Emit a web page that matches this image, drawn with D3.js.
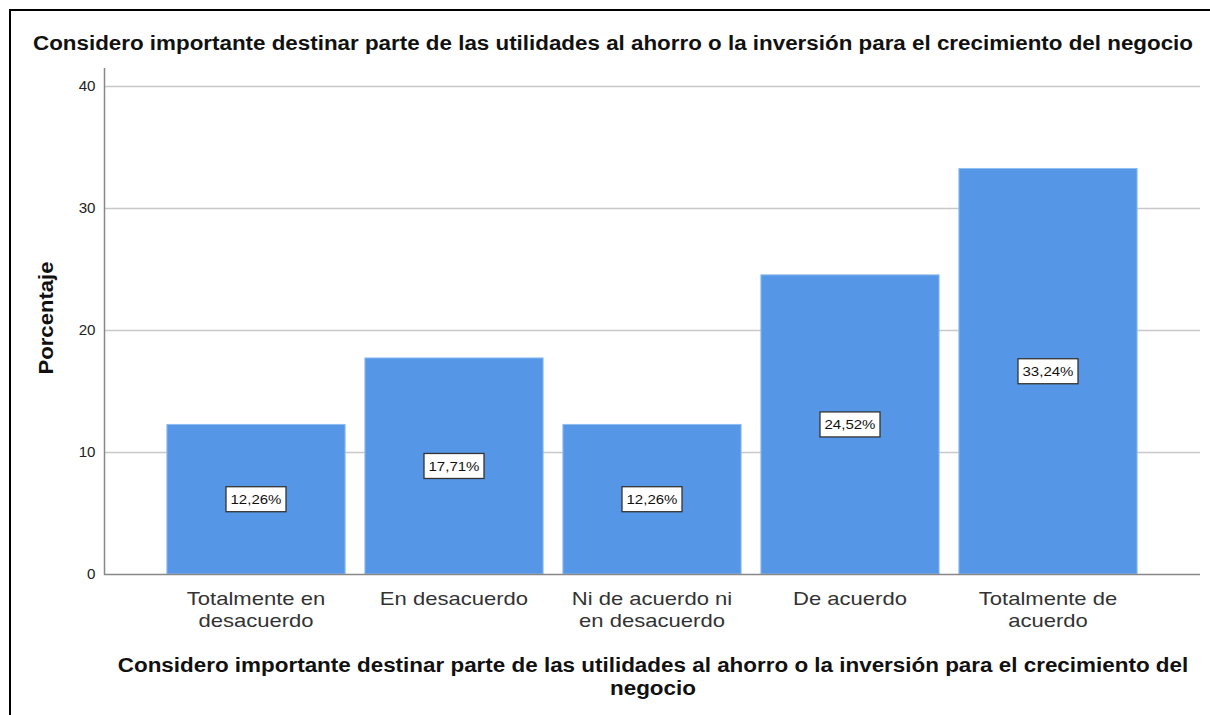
<!DOCTYPE html>
<html><head><meta charset="utf-8">
<script src="https://cdn.jsdelivr.net/npm/d3@7"></script>
<style>html,body{margin:0;padding:0;background:#fff;overflow:hidden}</style>
</head><body>
<svg id="c" width="1210" height="715"></svg>
<script>
const categories = [["Totalmente en","desacuerdo"],["En desacuerdo"],["Ni de acuerdo ni","en desacuerdo"],["De acuerdo"],["Totalmente de","acuerdo"]];
const values = [12.26, 17.71, 12.26, 24.52, 33.24];
const labels = ["12,26%","17,71%","12,26%","24,52%","33,24%"];
const yTicks = [0,10,20,30,40];
const titleText = "Considero importante destinar parte de las utilidades al ahorro o la inversión para el crecimiento del negocio";
const xTitleLines = ["Considero importante destinar parte de las utilidades al ahorro o la inversión para el crecimiento del","negocio"];
const yTitle = "Porcentaje";

const svg = d3.select("#c");
const font = "'Liberation Sans', Arial, sans-serif";
const stretch = (sel, k) => sel.each(function(){
  const w = this.getComputedTextLength();
  d3.select(this).attr("textLength", w*k).attr("lengthAdjust","spacingAndGlyphs");
});

// frame
svg.append("rect").attr("x",10).attr("y",10).attr("width",1220).attr("height",720)
  .attr("fill","none").attr("stroke","#000").attr("stroke-width",2);

const y = d3.scaleLinear().domain([0,40]).range([574,86]);
const x = d3.scaleBand().domain(d3.range(values.length)).range([157,1147]).paddingInner(0.1).paddingOuter(0.05);

// gridlines
svg.append("g").selectAll("line").data(yTicks.filter(d=>d>0)).join("line")
  .attr("x1",104).attr("x2",1200).attr("y1",d=>y(d)+0.5).attr("y2",d=>y(d)+0.5)
  .attr("stroke","#c8c8c8").attr("stroke-width",1.5);

// y axis
const yAxis = svg.append("g").attr("transform","translate(104.5,0)")
  .call(d3.axisLeft(y).tickValues(yTicks).tickSize(0).tickPadding(9));
yAxis.select(".domain").remove();
yAxis.selectAll("text").attr("font-family",font).attr("font-size",14).attr("fill","#222");
stretch(yAxis.selectAll("text"),1.08);
svg.append("line").attr("x1",104.5).attr("x2",104.5).attr("y1",68).attr("y2",575).attr("stroke","#888").attr("stroke-width",1.5);

// bars
svg.append("g").selectAll("rect").data(values).join("rect")
  .attr("x",(d,i)=>x(i)).attr("width",x.bandwidth())
  .attr("y",d=>y(d)).attr("height",d=>y(0)-y(d))
  .attr("fill","#5596e6").attr("stroke","#8fbdf2").attr("stroke-width",1);

// x axis line
svg.append("line").attr("x1",104).attr("x2",1200).attr("y1",574.5).attr("y2",574.5).attr("stroke","#888").attr("stroke-width",1.5);

// value labels
const lg = svg.append("g").selectAll("g").data(values).join("g")
  .attr("transform",(d,i)=>`translate(${x(i)+x.bandwidth()/2},${y(d/2)})`);
lg.each(function(d,i){
  const g = d3.select(this);
  const t = g.append("text").text(labels[i]).attr("text-anchor","middle").attr("dy","0.36em")
    .attr("font-family",font).attr("font-size",13.5).attr("fill","#111");
  const w0 = t.node().getComputedTextLength();
  const w = 51;
  t.attr("textLength", w).attr("lengthAdjust","spacingAndGlyphs");
  g.insert("rect","text").attr("x",-w/2-4.5).attr("y",-12.5).attr("width",w+9).attr("height",25)
    .attr("fill","#fff").attr("stroke","#333").attr("stroke-width",1.3);
});

// x tick labels
const xl = svg.append("g").selectAll("text").data(categories).join("text")
  .attr("x",(d,i)=>x(i)+x.bandwidth()/2).attr("y",605)
  .attr("text-anchor","middle").attr("font-family",font).attr("font-size",19).attr("fill","#333");
xl.selectAll("tspan").data(d=>d).join("tspan")
  .attr("x",function(){return this.parentNode.getAttribute("x");})
  .attr("y",(d,j)=>605+j*22).text(d=>d);
// stretch each tspan line
xl.selectAll("tspan").each(function(){
  const w = this.getComputedTextLength();
  d3.select(this).attr("textLength", w*1.16).attr("lengthAdjust","spacingAndGlyphs");
});

// title
const tt = svg.append("text").attr("x",613).attr("y",50).attr("text-anchor","middle")
  .attr("font-family",font).attr("font-weight","bold").attr("font-size",19.5).attr("fill","#111").text(titleText);
tt.attr("textLength",1160).attr("lengthAdjust","spacingAndGlyphs");

// x title
const xt = svg.append("g").selectAll("text").data(xTitleLines).join("text")
  .attr("x",653).attr("y",(d,i)=>672+i*23).attr("text-anchor","middle")
  .attr("font-family",font).attr("font-weight","bold").attr("font-size",19.5).attr("fill","#111").text(d=>d);
stretch(xt,1.15);

// y title
const yt = svg.append("text").attr("transform","translate(53,318) rotate(-90)").attr("text-anchor","middle")
  .attr("font-family",font).attr("font-weight","bold").attr("font-size",19.5).attr("fill","#111").text(yTitle);
yt.attr("textLength",113).attr("lengthAdjust","spacingAndGlyphs");
</script>
</body></html>
